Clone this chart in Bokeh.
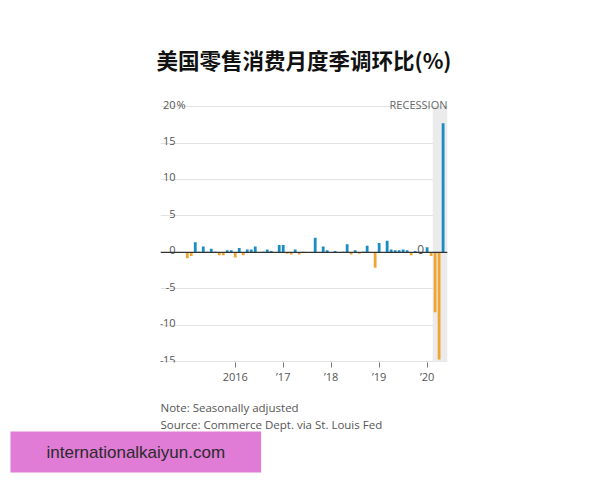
from bokeh.plotting import figure
from bokeh.models import Range1d, FixedTicker, Span, Title, ColumnDataSource
from bokeh.core.properties import value
from bokeh.embed import file_html
from bokeh.resources import INLINE

title_text = "美国零售消费月度季调环比(%)"
note_text = "Note: Seasonally adjusted"
source_text = "Source: Commerce Dept. via St. Louis Fed"
watermark_text = "internationalkaiyun.com"
recession_text = "RECESSION"

# Monthly % change, Jan 2015 .. May 2020
values_2015 = [-0.8, -0.5, 1.4, 0.1, 0.8, 0.1, 0.5, 0.1, -0.4, -0.4, 0.3, 0.3]
values_2016 = [-0.7, 0.6, -0.4, 0.4, 0.4, 0.8, -0.1, 0.1, 0.4, 0.2, 0.0, 1.0]
values_2017 = [1.0, -0.2, -0.3, 0.4, -0.3, 0.1, 0.0, -0.1, 2.0, 0.05, 0.8, 0.3]
values_2018 = [-0.1, 0.2, 0.05, 0.1, 1.1, -0.3, 0.3, -0.2, 0.1, 0.9, 0.05, -2.1]
values_2019 = [1.3, -0.1, 1.6, 0.4, 0.3, 0.3, 0.4, 0.3, -0.4, 0.2, 0.05, 0.05]
values_2020 = [0.7, -0.5, -8.2, -14.7, 17.7]
values = values_2015 + values_2016 + values_2017 + values_2018 + values_2019 + values_2020
month_index = list(range(len(values)))

xtick_months = [12, 24, 36, 48, 60]
xtick_labels = ["2016", "\u201917", "\u201918", "\u201919", "\u201920"]
yticks = [-15, -10, -5, 0, 5, 10, 15, 20]
ytick_labels = ["-15", "-10", "-5", "0", "5", "10", "15", "20"]
recession_start, recession_end = 61.4, 65.1

BLUE = "#1b8cc4"
ORANGE = "#f0a432"
GRAY = "#555555"
FONT = "Open Sans"

x_lo, x_hi = -6.7, 65.1
y_lo, y_hi = -15.1, 22.2

p = figure(frame_width=287, frame_height=272,
           min_border_left=160, min_border_right=145,
           min_border_top=90, min_border_bottom=100,
           x_range=Range1d(x_lo, x_hi), y_range=Range1d(y_lo, y_hi),
           y_axis_location=None, output_backend="svg", toolbar_location=None)
p.outline_line_color = None
p.background_fill_color = "white"
p.border_fill_color = "white"

p.title.text = title_text
p.title.align = "center"
p.title.text_font = "Noto Sans CJK SC"
p.title.text_font_size = "21.5px"
p.title.text_font_style = "bold"
p.title.text_color = "#111111"
p.title.standoff = 32

p.xgrid.visible = False
p.ygrid.ticker = FixedTicker(ticks=yticks)
p.ygrid.grid_line_color = "#e2e2e2"
p.ygrid.grid_line_width = 1

ax = p.xaxis[0]
ax.ticker = FixedTicker(ticks=xtick_months)
ax.major_label_overrides = {k: v for k, v in zip(xtick_months, xtick_labels)}
ax.axis_line_color = None
ax.major_tick_in = 0
ax.major_tick_out = 5
ax.major_tick_line_color = "#777777"
ax.minor_tick_line_color = None
ax.major_label_standoff = 1
ax.major_label_text_font = FONT
ax.major_label_text_font_size = "11px"
ax.major_label_text_color = GRAY

# recession shading
p.quad(left=[recession_start], right=[recession_end], bottom=[yticks[0]], top=[yticks[-1]],
       fill_color="#ebebeb", line_color=None)

colors = [BLUE if v >= 0 else ORANGE for v in values]
src = ColumnDataSource(dict(x=month_index, top=values, color=colors))
p.vbar(x="x", top="top", bottom=0, width=0.7, fill_color="color", line_color=None, source=src)

p.add_layout(Span(location=0, dimension="width", line_color="#333333", line_width=1.3))

# y tick labels inside the frame
p.text(x=[x_lo] * len(yticks), y=yticks, text=ytick_labels, x_offset=15, y_offset=-2,
       text_align="right", text_baseline="alphabetic", text_font=value(FONT),
       text_font_size="11px", text_color=GRAY)
p.text(x=[x_lo], y=[yticks[-1]], text=["%"], x_offset=16, y_offset=-2,
       text_align="left", text_baseline="alphabetic", text_font=value(FONT),
       text_font_size="11px", text_color=GRAY)
p.text(x=[x_hi], y=[yticks[-1]], text=[recession_text], x_offset=0, y_offset=-2,
       text_align="right", text_baseline="alphabetic", text_font=value(FONT),
       text_font_size="11px", text_color="#666666")
p.text(x=[58.4], y=[0], text=["0"], y_offset=-3,
       text_align="center", text_baseline="alphabetic", text_font=value(FONT),
       text_font_size="12px", text_color=GRAY)

# footnotes and watermark in the bottom panel
notes = Title(text=note_text + "\n" + source_text, align="left", text_font=FONT,
              text_font_size="11.5px", text_font_style="normal", text_color=GRAY,
              text_line_height=1.1, standoff=0, padding=(0, 0, 11, 0))
wm = Title(text=watermark_text, align="left", text_font="Liberation Sans", text_font_size="17px",
           text_font_style="normal", text_color="#2a2a2a", standoff=0, offset=-150,
           vertical_align="top",
           background_fill_color="#e07bd6", padding=(36, 36, 11, 11))
p.add_layout(notes, "below")
p.add_layout(wm, "below")

open("out.html", "w").write(file_html(p, INLINE))
